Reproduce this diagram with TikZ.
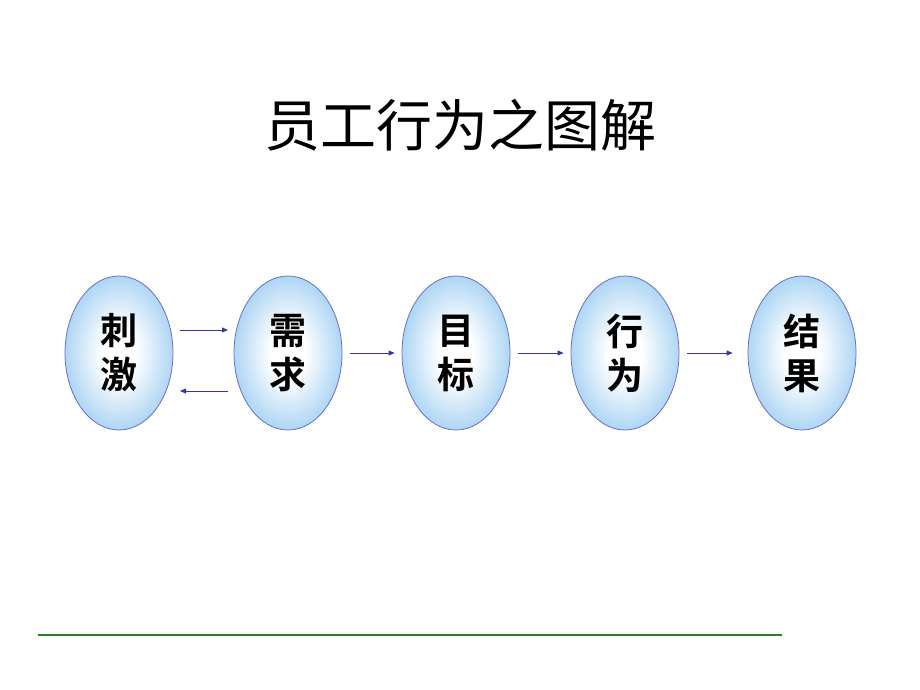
\documentclass[tikz,border=0pt]{standalone}
\usepackage{fontspec}
\newfontfamily\cjk{Noto Sans CJK SC}
\newfontfamily\cjkb{Noto Sans CJK SC Bold}
\usetikzlibrary{arrows.meta,calc,shapes.geometric}
\definecolor{edgeblue}{HTML}{6A6FC8}
\definecolor{fillblue}{HTML}{AED6F4}
\definecolor{arrblue}{HTML}{3338A8}
\definecolor{lineGreen}{HTML}{2E7D2E}
\pgfdeclareradialshading{ovalshade}{\pgfpoint{0bp}{0bp}}{%
  color(0bp)=(white); color(8bp)=(white); color(25bp)=(fillblue); color(50bp)=(fillblue)}
\tikzset{
  oval/.style={ellipse, draw=edgeblue, line width=0.8pt, minimum width=108pt, minimum height=154pt, shading=ovalshade, font=\cjkb\fontsize{37}{44}\selectfont, align=center, text=black},
  arr/.style={draw=arrblue, line width=0.8pt, -{Triangle[length=6pt,width=5pt]}}
}
\begin{document}
\begin{tikzpicture}[x=1pt,y=-1pt]
\useasboundingbox (0,0) rectangle (920,690);
\node[font=\cjk\fontsize{56}{60}\selectfont] (title) at (460,125) {员工行为之图解};
\node[oval] (a) at (119,353) {刺\\激};
\node[oval] (b) at (288,353) {需\\求};
\node[oval] (c) at (456,353) {目\\标};
\node[oval] (d) at (625,353) {行\\为};
\node[oval] (e) at (802,353) {结\\果};
\draw[arr] ($(a.center)+(61,-23)$) -- ($(b.center)+(-60,-23)$);
\draw[arr] ($(b.center)+(-60,38)$) -- ($(a.center)+(61,38)$);
\draw[arr, shorten <=8pt, shorten >=7pt] (b) -- (c);
\draw[arr, shorten <=8pt, shorten >=7pt] (c) -- (d);
\draw[arr, shorten <=8pt, shorten >=15pt] (d) -- (e);
\coordinate (gl) at (38,635);
\coordinate (gr) at (782,635);
\draw[lineGreen, line width=2pt] (gl) -- (gr);
\end{tikzpicture}
\end{document}
